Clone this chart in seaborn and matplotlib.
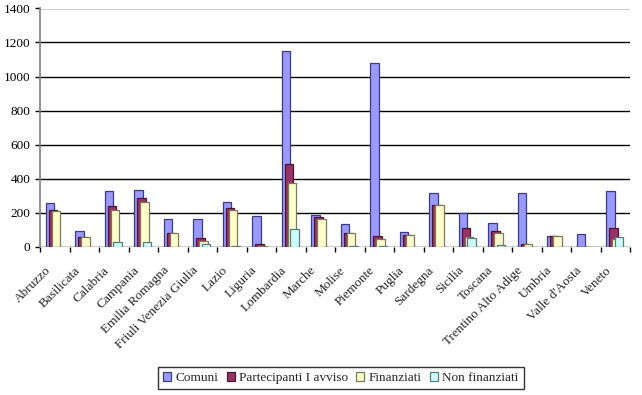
import numpy as np
import pandas as pd
import seaborn as sns
import matplotlib
matplotlib.use("Agg")
import matplotlib.pyplot as plt
from matplotlib.transforms import ScaledTranslation
from matplotlib.patches import Patch

regioni = ["Abruzzo", "Basilicata", "Calabria", "Campania", "Emilia Romagna",
           "Friuli Venezia Giulia", "Lazio", "Liguria", "Lombardia", "Marche",
           "Molise", "Piemonte", "Puglia", "Sardegna", "Sicilia", "Toscana",
           "Trentino Alto Adige", "Umbria", "Valle d'Aosta", "Veneto"]
comuni = [253, 90, 325, 333, 163, 159, 259, 178, 1149, 183, 130, 1080, 84, 314, 196, 139, 314, 62, 72, 325]
partecipanti = [212, 57, 241, 286, 81, 51, 228, 16, 485, 176, 81, 60, 69, 247, 110, 90, 15, 62, 0, 110]
finanziati = [210, 53, 212, 259, 78, 31, 212, 4, 376, 161, 80, 46, 65, 247, 55, 78, 12, 60, 0, 43]
non_finanziati = [0, 0, 25, 25, 0, 16, 4, 0, 105, 0, 3, 3, 0, 0, 52, 10, 0, 0, 0, 55]
serie = ["Comuni", "Partecipanti I avviso", "Finanziati", "Non finanziati"]
colori = ["#9999FF", "#993366", "#FFFFCC", "#CCFFFF"]
bordi = ["#3c3c7a", "#4a1530", "#7a7a5a", "#5a7a7a"]
yticks = [0, 200, 400, 600, 800, 1000, 1200, 1400]

df = pd.DataFrame({
    "Regione": regioni * 4,
    "Serie": np.repeat(serie, len(regioni)),
    "Valore": comuni + partecipanti + finanziati + non_finanziati,
})

sns.set_theme(style="white")
plt.rcParams["font.family"] = ["Liberation Serif", "DejaVu Serif"]

fig = plt.figure(figsize=(6.42, 3.95), dpi=100)
ax = fig.add_axes([40 / 642, 1 - 246.5 / 395, 590 / 642, 238 / 395])

sns.barplot(data=df, x="Regione", y="Valore", hue="Serie", hue_order=serie,
            palette=colori, order=regioni, ax=ax, width=0.8, legend=False,
            saturation=1, errorbar=None)

w = 0.29
offsets = [-0.16, -0.06, 0.04, 0.13]
for k, cont in enumerate(ax.containers):
    for bar in cont:
        c = bar.get_x() + bar.get_width() / 2
        i = round(c)
        bar.set_x(i + offsets[k] - w / 2)
        bar.set_width(w)
        bar.set_edgecolor(bordi[k])
        bar.set_linewidth(0.9)

ax.set_xlim(-0.5, len(regioni) - 0.5)
ax.set_ylim(0, 1400)
ax.set_yticks(yticks)
ax.yaxis.grid(True, color="black", linewidth=1)
ax.set_axisbelow(True)
ax.set_xlabel("")
ax.set_ylabel("")
for s in ["top", "right", "bottom"]:
    ax.spines[s].set_visible(False)
ax.spines["left"].set_color("#808080")
ax.spines["left"].set_linewidth(1.2)

ax.tick_params(axis="y", which="major", left=True, length=3.5, width=1,
               color="black", pad=3.5, labelsize=9.5, labelcolor="black")
ax.set_xticks(range(len(regioni)))
ax.set_xticks(np.arange(-0.5, len(regioni), 1), minor=True)
ax.tick_params(axis="x", which="major", length=0, pad=0, labelsize=9.5)
ax.tick_params(axis="x", which="minor", bottom=True, length=3.5, width=1, color="black")
ax.set_xticklabels(regioni, rotation=45, ha="right", va="center", rotation_mode="anchor")
off = ScaledTranslation(-0.06, -0.22, fig.dpi_scale_trans)
for lab in ax.get_xticklabels():
    lab.set_transform(lab.get_transform() + off)

handles = [Patch(facecolor=colori[k], edgecolor=bordi[k], linewidth=0.9) for k in range(4)]
leg = fig.legend(handles, serie, loc="center", bbox_to_anchor=(341 / 642, 1 - 378 / 395),
                 ncol=4, frameon=True, fancybox=False, fontsize=9.5,
                 handlelength=0.6, handleheight=0.6, handletextpad=0.35,
                 columnspacing=0.6, borderpad=0.4, borderaxespad=0)
leg.get_frame().set_edgecolor("black")
leg.get_frame().set_linewidth(1)

fig.savefig("out.png", dpi=100)
